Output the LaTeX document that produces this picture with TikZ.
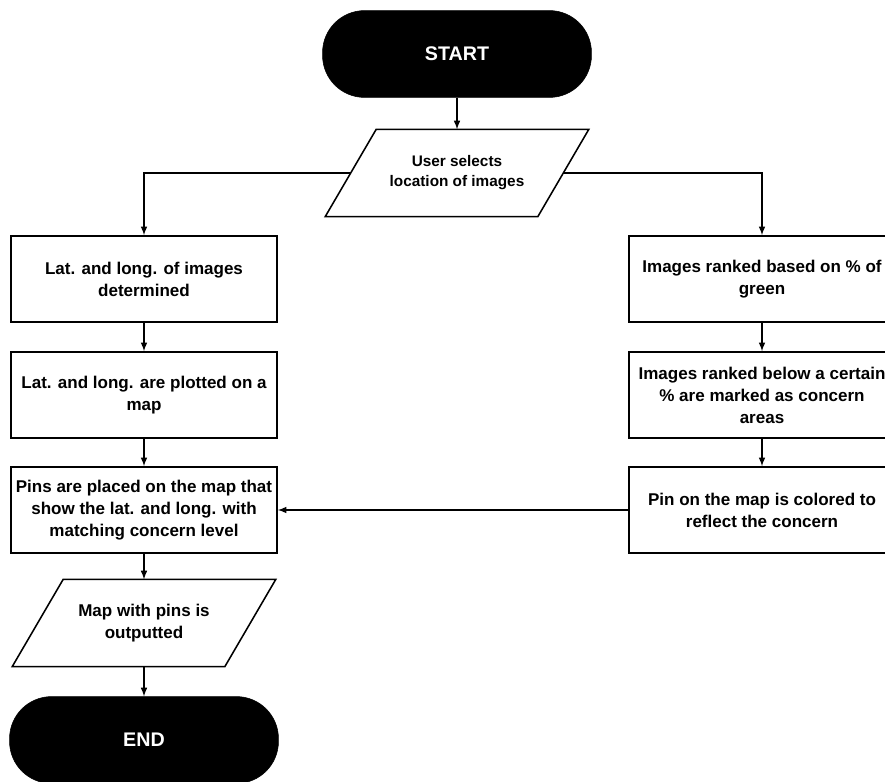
\documentclass[tikz,border=0pt]{standalone}
\usepackage{fontspec}
\setmainfont{Liberation Sans}

\tikzset{
  terminal/.style={fill=black, draw=black, text=white, rounded corners=1.05cm,
    minimum width=6.72cm, minimum height=2.17cm, font=\fontsize{14}{17}\selectfont\bfseries},
  procbox/.style={draw, line width=1.1pt, minimum width=6.65cm, minimum height=2.15cm,
    align=center, font=\fontsize{12.1}{15.6}\selectfont\bfseries},
  iobox/.style={minimum width=5.3cm, minimum height=2.17cm, align=center,
    append after command={\pgfextra{\draw[line width=1.1pt]
      ([xshift=0.6375cm]\tikzlastnode.north west) -- ([xshift=0.6375cm]\tikzlastnode.north east)
      -- ([xshift=-0.6375cm]\tikzlastnode.south east) -- ([xshift=-0.6375cm]\tikzlastnode.south west) -- cycle;}}},
  flow/.style={line width=1.1pt, -latex}
}

\begin{document}
\begin{tikzpicture}[x=0.025cm, y=-0.025cm]

\clip (0,0) rectangle (885,781);

\node[terminal] (start) at (457,54) {START};

\node[iobox, font=\fontsize{10.9}{14.2}\selectfont\bfseries] (select) at (457,173) {User selects\\location of images};

% left branch
\node[procbox] (latlong) at (144,279) {Lat. and long. of images\\determined};
\node[procbox] (plotted) at (144,395) {Lat. and long. are plotted on a\\map};
\node[procbox] (pins) at (144,510) {Pins are placed on the map that\\show the lat. and long. with\\matching concern level};
\node[iobox, font=\fontsize{12.1}{15.6}\selectfont\bfseries] (mapout) at (144,623) {Map with pins is\\outputted};
\node[terminal] (finish) at (144,740) {END};

% right branch
\node[procbox] (ranked) at (762,279) {Images ranked based on \% of\\green};
\node[procbox] (below) at (762,395) {Images ranked below a certain\\\% are marked as concern\\areas};
\node[procbox] (colored) at (762,510) {Pin on the map is colored to\\reflect the concern};


\draw[flow] (start) -- (select);

\draw[flow] (select.west) -| (latlong.north);
\draw[flow] (select.east) -| (ranked.north);

\draw[flow] (latlong) -- (plotted);
\draw[flow] (plotted) -- (pins);
\draw[flow] (pins) -- (mapout);
\draw[flow] (mapout) -- (finish);

\draw[flow] (ranked) -- (below);
\draw[flow] (below) -- (colored);
\draw[flow] (colored.west) -- (pins.east);

\end{tikzpicture}
\end{document}
